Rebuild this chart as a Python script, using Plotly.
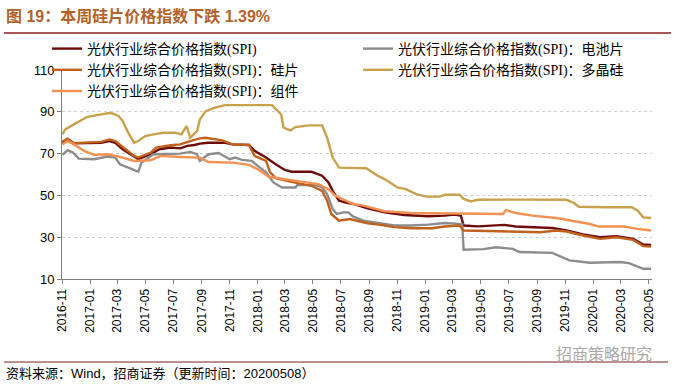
import plotly.graph_objects as go

# ---------------- data ----------------
spi_dates = ["2016-11-02","2016-11-13","2016-11-27","2016-12-25","2017-01-25","2017-02-12","2017-02-25",
             "2017-03-13","2017-04-07","2017-04-16","2017-04-28","2017-05-13","2017-06-01","2017-06-25",
             "2017-07-16","2017-08-01","2017-08-16","2017-08-28","2017-09-16","2017-10-22","2017-11-07",
             "2017-12-13","2017-12-25","2018-01-19","2018-02-09","2018-03-01","2018-03-16","2018-04-28",
             "2018-05-21","2018-06-04","2018-06-13","2018-06-27","2018-07-10","2018-07-28","2018-08-28",
             "2018-10-04","2018-11-16","2019-01-07","2019-02-12","2019-03-04","2019-03-19","2019-03-25",
             "2019-04-25","2019-06-10","2019-06-22","2019-07-16","2019-10-04","2019-11-04","2019-12-10",
             "2020-01-16","2020-02-21","2020-03-28","2020-04-19","2020-05-06"]
spi_vals = [75.2,76.8,74.9,74.9,75.2,76.0,75.2,
            72.1,68.4,67.3,68.4,69.7,72.1,72.9,
            72.5,73.7,74.1,74.8,75.2,75.2,74.4,
            74.1,71.3,68.1,64.9,62.2,61.3,61.3,
            59.4,56.2,52.2,47.5,46.7,45.9,43.8,
            41.9,40.6,40.0,40.3,40.8,40.3,35.6,
            35.2,35.6,35.9,35.1,34.4,33.2,31.3,
            30.0,30.5,29.2,26.5,26.3]

cell_dates = ["2016-11-02","2016-11-13","2016-11-25","2016-12-07","2017-01-10","2017-02-08","2017-02-25",
              "2017-03-07","2017-03-28","2017-04-16","2017-04-23","2017-05-19","2017-07-16","2017-08-07",
              "2017-08-22","2017-08-28","2017-09-16","2017-10-08","2017-11-01","2017-11-13","2017-11-28",
              "2017-12-19","2018-01-01","2018-01-19","2018-02-04","2018-02-23","2018-03-24","2018-03-28",
              "2018-05-07","2018-05-21","2018-06-01","2018-06-13","2018-06-22","2018-07-07","2018-07-17",
              "2018-07-28","2018-08-19","2018-09-19","2018-10-25","2018-12-01","2019-01-07","2019-02-12",
              "2019-03-16","2019-03-22","2019-03-25","2019-05-07","2019-06-04","2019-07-10","2019-07-25",
              "2019-10-04","2019-11-10","2019-12-25","2020-02-27","2020-03-19","2020-04-19","2020-05-06"]
cell_vals = [69.4,71.6,70.5,67.6,67.3,68.6,68.1,
             64.9,63.0,61.3,65.7,69.7,70.0,70.8,
             69.7,66.5,69.7,70.3,67.3,68.1,67.0,
             66.5,64.1,61.0,56.2,53.8,53.8,54.9,
             54.9,53.8,50.6,43.5,41.1,41.9,41.9,
             39.8,37.9,36.7,35.6,35.6,36.0,36.8,
             36.3,36.3,24.0,24.3,25.2,24.4,22.9,
             22.5,18.9,17.8,18.1,17.6,14.9,14.9]

wafer_dates = ["2016-11-02","2016-11-13","2016-11-27","2017-01-25","2017-02-12","2017-02-25","2017-04-07",
               "2017-04-16","2017-05-13","2017-05-25","2017-06-25","2017-07-16","2017-08-07","2017-08-28",
               "2017-09-10","2017-10-16","2017-11-07","2017-12-13","2017-12-25","2018-01-19","2018-01-28",
               "2018-02-09","2018-03-10","2018-04-28","2018-05-21","2018-06-01","2018-06-10","2018-06-27",
               "2018-07-20","2018-08-07","2018-08-28","2018-09-25","2018-10-25","2018-12-01","2019-01-15",
               "2019-02-12","2019-03-16","2019-03-25","2019-06-10","2019-09-07","2019-10-13","2019-11-04",
               "2019-12-10","2020-01-16","2020-02-21","2020-03-28","2020-04-19","2020-05-06"]
wafer_vals = [75.7,77.1,75.0,75.6,76.8,76.0,68.9,
              68.1,70.5,72.9,74.0,74.4,76.0,77.3,
              77.6,76.3,74.4,74.1,68.9,66.5,61.0,
              58.3,56.7,54.6,52.2,47.5,41.1,37.9,
              38.7,37.9,36.7,35.9,34.8,34.3,34.3,
              35.1,35.6,33.2,32.9,32.4,33.2,32.7,
              30.8,29.2,30.0,28.7,25.7,25.5]

poly_dates = ["2016-11-02","2016-11-08","2016-11-27","2016-12-11","2016-12-25","2017-01-16","2017-02-15",
              "2017-03-04","2017-03-13","2017-03-25","2017-04-07","2017-04-16","2017-05-01","2017-05-19",
              "2017-06-10","2017-07-05","2017-07-19","2017-07-30","2017-08-07","2017-08-22","2017-08-28",
              "2017-09-10","2017-09-28","2017-10-22","2018-02-01","2018-02-21","2018-02-26","2018-03-13",
              "2018-03-24","2018-04-22","2018-05-21","2018-06-01","2018-06-13","2018-06-27","2018-08-25",
              "2018-09-19","2018-10-04","2018-11-01","2018-11-19","2018-12-12","2019-01-04","2019-02-01",
              "2019-02-12","2019-03-16","2019-03-25","2019-04-10","2019-04-25","2019-08-01","2019-11-04",
              "2019-11-19","2019-12-01","2020-02-01","2020-03-25","2020-04-07","2020-04-19","2020-05-06"]
poly_vals = [79.2,81.6,84.0,85.6,87.5,88.4,89.5,
             88.0,85.6,80.0,75.2,76.0,78.4,79.2,
             80.0,80.0,79.2,83.2,77.6,80.8,86.3,
             90.3,91.9,93.2,93.2,88.7,82.4,81.1,
             82.7,83.5,83.5,77.6,68.1,63.3,63.0,
             59.4,57.8,53.8,53.0,50.6,49.4,49.4,
             50.3,50.3,48.3,47.1,47.9,48.0,47.9,
             46.5,44.6,44.3,44.3,42.7,39.5,39.2]

module_dates = ["2016-11-02","2016-11-13","2016-11-27","2016-12-19","2017-01-10","2017-02-08","2017-03-07",
                "2017-04-07","2017-05-13","2017-06-04","2017-07-16","2017-08-28","2017-09-16","2017-11-07",
                "2017-12-13","2018-01-01","2018-01-25","2018-02-23","2018-04-01","2018-05-13","2018-06-04",
                "2018-06-19","2018-07-10","2018-07-28","2018-08-19","2018-10-04","2018-12-01","2019-02-12",
                "2019-06-19","2019-06-25","2019-07-16","2019-08-22","2019-10-13","2019-11-25","2019-12-25",
                "2020-01-13","2020-03-07","2020-04-07","2020-05-06"]
module_vals = [74.4,76.0,74.4,71.3,69.4,69.7,68.4,
               66.5,66.8,68.9,68.4,68.1,66.0,65.7,
               64.6,62.5,58.9,57.8,56.7,55.4,53.0,
               49.8,47.5,45.9,45.1,42.4,41.6,41.4,
               41.1,43.0,41.6,40.3,39.2,37.5,36.3,
               35.1,35.1,34.0,33.2]

series_names = ["光伏行业综合价格指数(SPI)",
                "光伏行业综合价格指数(SPI)：电池片",
                "光伏行业综合价格指数(SPI)：硅片",
                "光伏行业综合价格指数(SPI)：多晶硅",
                "光伏行业综合价格指数(SPI)：组件"]

title_text = "图 19：本周硅片价格指数下跌 1.39%"
source_text = "资料来源：Wind，招商证券（更新时间：20200508）"
watermark_text = "招商策略研究"

# ---------------- layout geometry ----------------
FW, FH = 675, 386
L, R, T, B = 62, 23, 70, 107
PW, PH = FW - L - R, FH - T - B

def px(x):
    return (x - L) / PW

def py(y):
    return (FH - B - y) / PH

colors = ["#6E0B0B", "#8C8C8C", "#C0621E", "#C9A14C", "#F39152"]
legend_ids = ["legend", "legend2", "legend", "legend2", "legend"]

fig = go.Figure()
data = [(spi_dates, spi_vals), (cell_dates, cell_vals), (wafer_dates, wafer_vals),
        (poly_dates, poly_vals), (module_dates, module_vals)]
for (d, v), name, c, lg in zip(data, series_names, colors, legend_ids):
    fig.add_trace(go.Scatter(x=d, y=v, name=name, mode="lines",
                             line=dict(color=c, width=2.4), legend=lg))

legend_font = dict(family="Liberation Serif, Noto Sans CJK SC", size=14, color="#000000")
fig.update_layout(
    width=FW, height=FH,
    margin=dict(l=L, r=R, t=T, b=B, autoexpand=False),
    paper_bgcolor="white", plot_bgcolor="white",
    showlegend=True,
    legend=dict(x=px(47), y=py(33), xref="paper", yref="paper",
                xanchor="left", yanchor="top", bgcolor="rgba(0,0,0,0)",
                font=legend_font, tracegroupgap=0, traceorder="normal"),
    legend2=dict(x=px(358), y=py(33), xref="paper", yref="paper",
                 xanchor="left", yanchor="top", bgcolor="rgba(0,0,0,0)",
                 font=legend_font, tracegroupgap=0, traceorder="normal"),
    xaxis=dict(type="date", range=["2016-11-01", "2020-05-08"],
               tickmode="linear", tick0="2016-11-01", dtick="M2", tickformat="%Y-%m",
               tickangle=-90, ticks="outside", ticklen=4, tickcolor="#808080",
               showline=True, linecolor="#808080", linewidth=1, showgrid=False,
               tickfont=dict(family="Liberation Sans, Arial", size=12, color="#000000")),
    yaxis=dict(range=[10, 110], tickmode="linear", tick0=10, dtick=20,
               ticks="outside", ticklen=4, tickcolor="#808080",
               showline=True, linecolor="#808080", linewidth=1,
               showgrid=True, gridcolor="#D0D0D0", griddash="dot", gridwidth=1,
               zeroline=False,
               tickfont=dict(family="Liberation Sans, Arial", size=13, color="#000000")),
)

# title, rules, source, watermark
fig.add_annotation(text="<b>" + title_text + "</b>", xref="paper", yref="paper",
                   x=px(4), y=py(16), xanchor="left", yanchor="middle", showarrow=False,
                   font=dict(family="Liberation Sans, Noto Sans CJK SC", size=16, color="#B4622A"))
fig.add_shape(type="line", xref="paper", yref="paper", x0=px(4), x1=px(671), y0=py(33), y1=py(33),
              line=dict(color="#8B1E1E", width=1.5))
fig.add_shape(type="line", xref="paper", yref="paper", x0=px(4), x1=px(668), y0=py(362), y1=py(362),
              line=dict(color="#7A1F1F", width=1))
fig.add_annotation(text=source_text, xref="paper", yref="paper",
                   x=px(4), y=py(373), xanchor="left", yanchor="middle", showarrow=False,
                   font=dict(family="Liberation Sans, Noto Sans CJK SC", size=13, color="#000000"))
fig.add_annotation(text=watermark_text, xref="paper", yref="paper",
                   x=px(654), y=py(353), xanchor="right", yanchor="middle", showarrow=False,
                   font=dict(family="Noto Sans CJK SC", size=16, color="#A8A8A8"))

fig.write_html("out.html", config={"displayModeBar": False},
               post_script="document.body.style.margin='0px';")
